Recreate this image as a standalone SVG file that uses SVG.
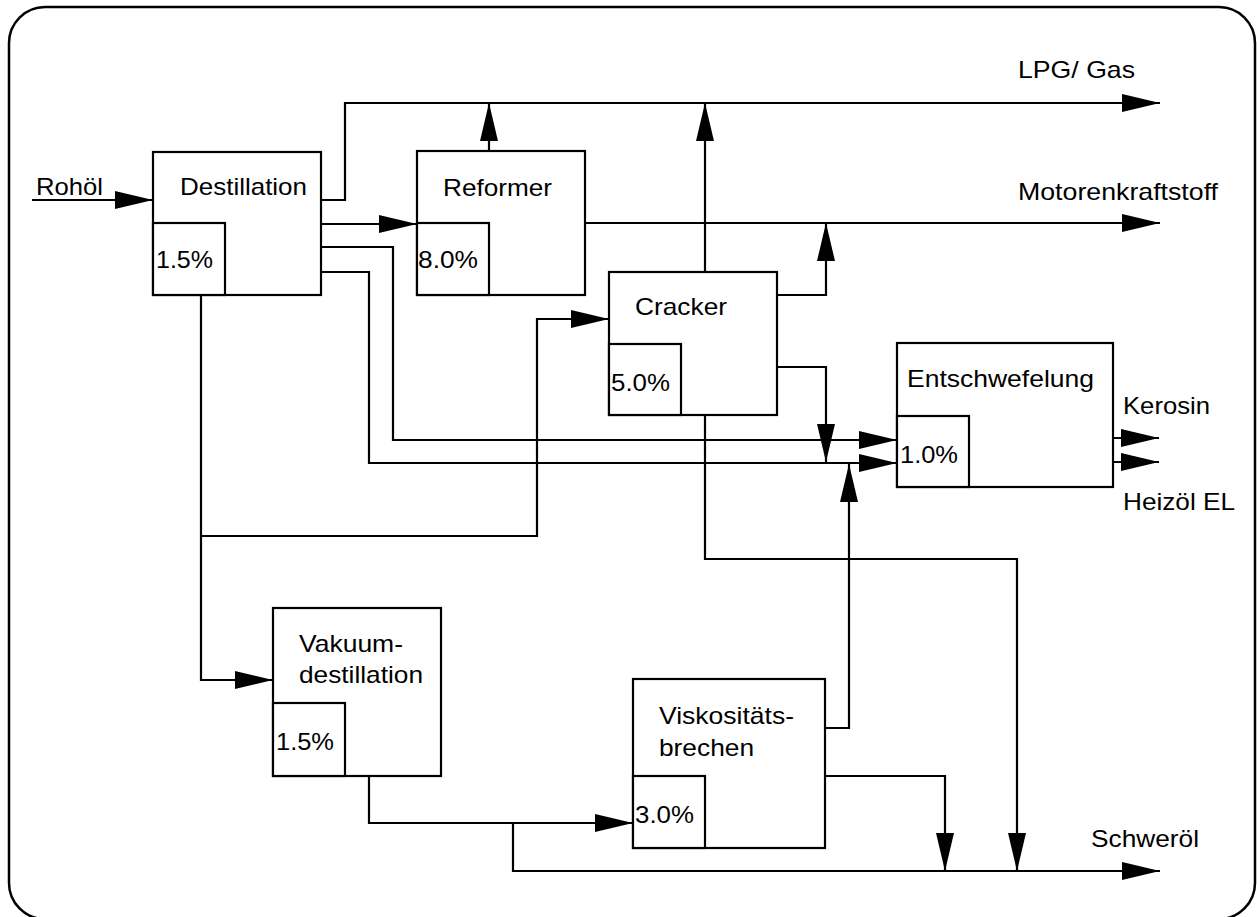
<svg xmlns="http://www.w3.org/2000/svg" width="1257" height="917" viewBox="0 0 1257 917">
<defs>
<style>
.box{fill:#fff;stroke:#000;stroke-width:2.2}
.con{fill:none;stroke:#000;stroke-width:2.2;marker-end:url(#ah)}
.ln{fill:none;stroke:#000;stroke-width:2.2}
text{font-family:"Liberation Sans",Arial,Helvetica,sans-serif;font-size:24px;fill:#000}
</style>
<marker id="ah" viewBox="0 0 38 18" refX="38" refY="9" markerWidth="38" markerHeight="18" orient="auto" markerUnits="userSpaceOnUse">
<path d="M0,0 L38,9 L0,18 z" fill="#000"/>
</marker>
</defs>
<rect x="0" y="0" width="1257" height="917" fill="#fff"/>
<rect x="9" y="7" width="1246" height="912" rx="36" ry="36" fill="none" stroke="#000" stroke-width="2.5"/>

<g id="connectors">
<path class="con" d="M32,200 H153"/>
<path class="con" d="M321,200 H345 V103 H1160"/>
<path class="con" d="M321,224 H417"/>
<path class="con" d="M321,247 H393 V440 H897"/>
<path class="con" d="M321,272 H369 V463 H897"/>
<path class="con" d="M201,295 V680 H273"/>
<path class="con" d="M201,536 H537 V319 H609"/>
<path class="con" d="M489,151 V103"/>
<path class="con" d="M585,223 H1160"/>
<path class="con" d="M705,272 V103"/>
<path class="con" d="M777,295 H826 V223"/>
<path class="con" d="M777,367 H826 V462"/>
<path class="con" d="M705,415 V559 H1017 V871"/>
<path class="con" d="M369,776 V823 H633"/>
<path class="con" d="M513,823 V871 H1160"/>
<path class="con" d="M825,728 H849 V464"/>
<path class="con" d="M825,776 H945 V871"/>
<path class="con" d="M1113,438 H1159"/>
<path class="con" d="M1113,462 H1159"/>
</g>

<g id="label-rohoel"><text x="36" y="195" textLength="67" lengthAdjust="spacingAndGlyphs">Rohöl</text></g>

<g id="destillation">
<rect class="box" x="153" y="152" width="168" height="143"/>
<rect class="box" x="153" y="223" width="72" height="72"/>
<text x="180" y="195" textLength="127" lengthAdjust="spacingAndGlyphs">Destillation</text>
<text x="156" y="268" textLength="57" lengthAdjust="spacingAndGlyphs">1.5%</text>
</g>

<g id="reformer">
<rect class="box" x="417" y="151" width="168" height="144"/>
<rect class="box" x="417" y="223" width="72" height="72"/>
<text x="443" y="196" textLength="109" lengthAdjust="spacingAndGlyphs">Reformer</text>
<text x="418" y="268" textLength="60" lengthAdjust="spacingAndGlyphs">8.0%</text>
</g>

<g id="cracker">
<rect class="box" x="609" y="272" width="168" height="143"/>
<rect class="box" x="609" y="344" width="72" height="71"/>
<text x="635" y="315" textLength="92" lengthAdjust="spacingAndGlyphs">Cracker</text>
<text x="611" y="391" textLength="59" lengthAdjust="spacingAndGlyphs">5.0%</text>
</g>

<g id="entschwefelung">
<rect class="box" x="897" y="343" width="216" height="144"/>
<rect class="box" x="897" y="416" width="72" height="71"/>
<text x="907" y="387" textLength="187" lengthAdjust="spacingAndGlyphs">Entschwefelung</text>
<text x="900" y="463" textLength="58" lengthAdjust="spacingAndGlyphs">1.0%</text>
</g>

<g id="vakuumdestillation">
<rect class="box" x="273" y="608" width="168" height="168"/>
<rect class="box" x="273" y="703" width="72" height="73"/>
<text x="299" y="652" textLength="104" lengthAdjust="spacingAndGlyphs">Vakuum-</text>
<text x="299" y="683" textLength="124" lengthAdjust="spacingAndGlyphs">destillation</text>
<text x="276" y="750" textLength="58" lengthAdjust="spacingAndGlyphs">1.5%</text>
</g>

<g id="viskositaetsbrechen">
<rect class="box" x="633" y="679" width="192" height="169"/>
<rect class="box" x="633" y="776" width="72" height="72"/>
<text x="659" y="724" textLength="135" lengthAdjust="spacingAndGlyphs">Viskositäts-</text>
<text x="659" y="756" textLength="95" lengthAdjust="spacingAndGlyphs">brechen</text>
<text x="635" y="823" textLength="59" lengthAdjust="spacingAndGlyphs">3.0%</text>
</g>

<g id="outputs">
<text x="1018" y="78" textLength="117" lengthAdjust="spacingAndGlyphs">LPG/ Gas</text>
<text x="1018" y="200" textLength="200" lengthAdjust="spacingAndGlyphs">Motorenkraftstoff</text>
<text x="1123" y="414" textLength="87" lengthAdjust="spacingAndGlyphs">Kerosin</text>
<text x="1123" y="510" textLength="112" lengthAdjust="spacingAndGlyphs">Heizöl EL</text>
<text x="1091" y="847" textLength="108" lengthAdjust="spacingAndGlyphs">Schweröl</text>
</g>
</svg>
